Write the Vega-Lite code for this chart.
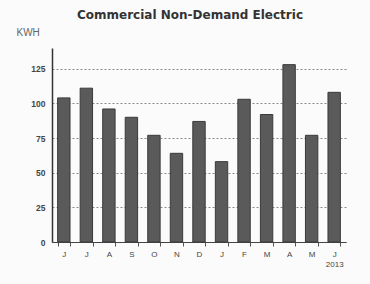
{
  "$schema": "https://vega.github.io/schema/vega-lite/v6.json",
  "autosize": {"type": "none"},
  "padding": {"left": 52, "top": 48, "right": 24, "bottom": 42},
  "width": 294,
  "height": 194,
  "background": "#fbfbfb",
  "title": {
    "text": "Commercial Non-Demand Electric",
    "font": "DejaVu Sans",
    "fontSize": 12,
    "fontWeight": "bold",
    "color": "#333333",
    "anchor": "middle",
    "dx": -9,
    "offset": 5
  },
  "data": {
    "values": [
      {"month": "Jun", "kwh": 104},
      {"month": "Jul", "kwh": 111},
      {"month": "Aug", "kwh": 96},
      {"month": "Sep", "kwh": 90},
      {"month": "Oct", "kwh": 77},
      {"month": "Nov", "kwh": 64},
      {"month": "Dec", "kwh": 87},
      {"month": "Jan", "kwh": 58},
      {"month": "Feb", "kwh": 103},
      {"month": "Mar", "kwh": 92},
      {"month": "Apr", "kwh": 128},
      {"month": "May", "kwh": 77},
      {"month": "Jun13", "kwh": 108}
    ]
  },
  "mark": {"type": "bar", "color": "#5a5a5a", "stroke": "#3a3a3a", "strokeWidth": 1},
  "encoding": {
    "x": {
      "field": "month",
      "type": "nominal",
      "sort": null,
      "scale": {"paddingInner": 0.45, "paddingOuter": 0.25},
      "axis": {
        "title": null,
        "labelAngle": 0,
        "labelExpr": "!datum.value ? '' : datum.value == 'Jun13' ? ['J', '2013'] : substring(datum.value, 0, 1)",
        "labelFont": "Liberation Sans",
        "labelFontSize": 8,
        "labelColor": "#444444",
        "labelPadding": 4,
        "tickBand": "extent",
        "tickSize": 4,
        "tickColor": "#555555",
        "domainColor": "#444444",
        "grid": false
      }
    },
    "y": {
      "field": "kwh",
      "type": "quantitative",
      "scale": {"domain": [0, 140], "nice": false},
      "axis": {
        "title": "KWH",
        "titleAngle": 0,
        "titleAlign": "left",
        "titleBaseline": "middle",
        "titleX": -36,
        "titleY": -16,
        "titleFont": "Liberation Sans",
        "titleFontSize": 10,
        "titleFontWeight": "normal",
        "titleColor": "#666666",
        "values": [0, 25, 50, 75, 100, 125],
        "labelFont": "Liberation Sans",
        "labelFontSize": 8.5,
        "labelFontWeight": "bold",
        "labelColor": "#444444",
        "labelPadding": 7,
        "ticks": false,
        "domainColor": "#333333",
        "domainWidth": 1.5,
        "grid": true,
        "gridColor": "#888888",
        "gridDash": [2, 2],
        "gridWidth": 1
      }
    }
  },
  "config": {
    "view": {"stroke": null}
  }
}
